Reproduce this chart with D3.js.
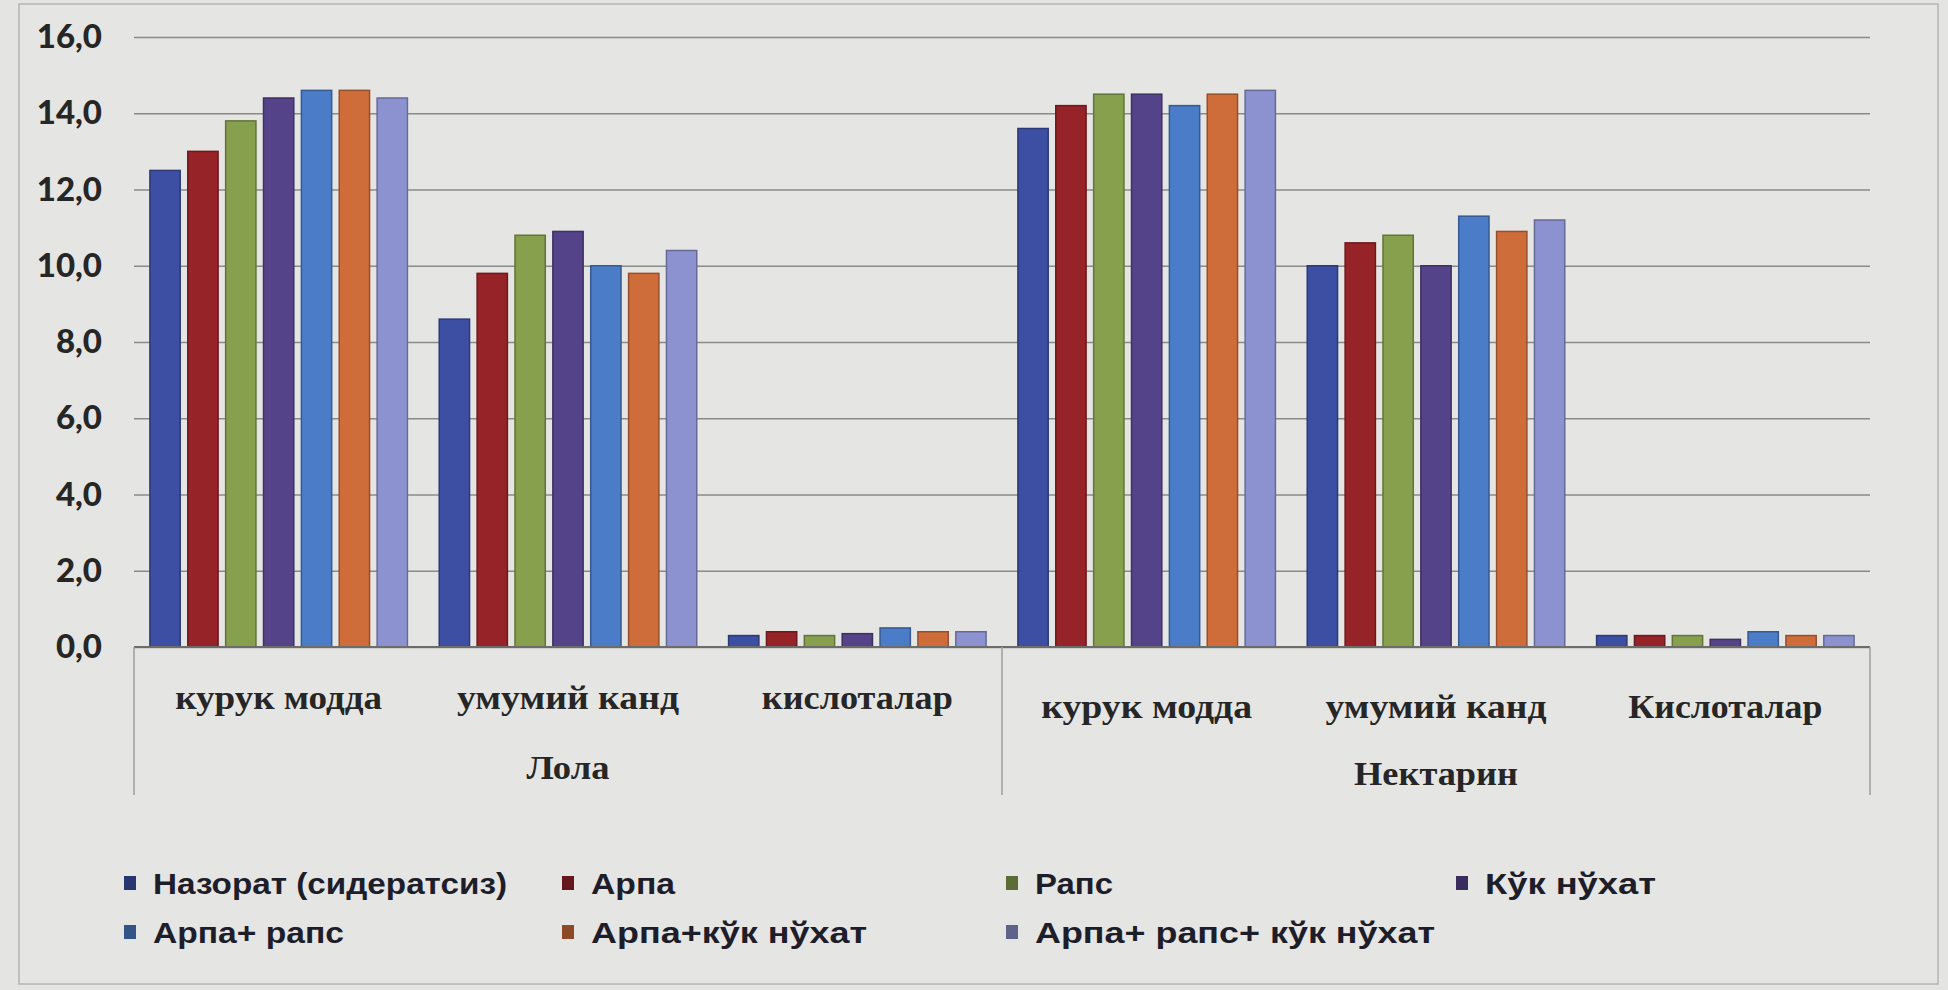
<!DOCTYPE html>
<html>
<head>
<meta charset="utf-8">
<script src="https://cdn.jsdelivr.net/npm/d3@7"></script>
<style>
  html, body { margin: 0; padding: 0; background: #e4e4e2; }
  svg { display: block; }
</style>
</head>
<body>
<svg id="chart" width="1948" height="990"></svg>
<script>
// Categories: two varieties, each with three measured indicators
const groups = ["Лола", "Нектарин"];
const indicators = [
  ["курук модда", "умумий канд", "кислоталар"],
  ["курук модда", "умумий канд", "Кислоталар"]
];

// Series names (green manure treatments)
const seriesNames = [
  "Назорат (сидератсиз)", "Арпа", "Рапс", "Кўк нўхат",
  "Арпа+ рапс", "Арпа+кўк нўхат", "Арпа+ рапс+ кўк нўхат"
];

// Values per series, in category order:
// Лола: курук модда, умумий канд, кислоталар; Нектарин: same
const nazorat      = [12.5,  8.6, 0.3, 13.6, 10.0, 0.3];
const arpa         = [13.0,  9.8, 0.4, 14.2, 10.6, 0.3];
const raps         = [13.8, 10.8, 0.3, 14.5, 10.8, 0.3];
const kukNukhat    = [14.4, 10.9, 0.35, 14.5, 10.0, 0.2];
const arpaRaps     = [14.6, 10.0, 0.5, 14.2, 11.3, 0.4];
const arpaKuk      = [14.6,  9.8, 0.4, 14.5, 10.9, 0.3];
const arpaRapsKuk  = [14.4, 10.4, 0.4, 14.6, 11.2, 0.3];
const seriesValues = [nazorat, arpa, raps, kukNukhat, arpaRaps, arpaKuk, arpaRapsKuk];

const colors = ["#3d4fa3", "#962328", "#86a04e", "#55438a", "#4a7cc8", "#cf6d3a", "#8c92d0"];

const yTicks = [0, 2, 4, 6, 8, 10, 12, 14, 16];
const yTickLabels = ["0,0", "2,0", "4,0", "6,0", "8,0", "10,0", "12,0", "14,0", "16,0"];

const svg = d3.select("#chart");
const plot = { left: 134, right: 1870, top: 37, bottom: 647 };

// frame of the chart area
svg.append("rect")
  .attr("x", 19).attr("y", 4).attr("width", 1919).attr("height", 980)
  .attr("fill", "#e5e5e3").attr("stroke", "#b4b4b2").attr("stroke-width", 1.5);

// flat category keys
const catKeys = [];
groups.forEach((g, gi) => indicators[gi].forEach((c, ci) => catKeys.push(gi + "|" + ci)));

const x0 = d3.scaleBand().domain(catKeys).range([plot.left, plot.right]).paddingInner(0.11).paddingOuter(0.055);
const x1 = d3.scaleBand().domain(d3.range(seriesNames.length)).range([0, x0.bandwidth()]).paddingInner(0.2);
const y = d3.scaleLinear().domain([0, 16]).range([plot.bottom, plot.top]);

// gridlines
svg.append("g")
  .attr("transform", `translate(${plot.left},0)`)
  .call(d3.axisLeft(y).tickValues(yTicks).tickSize(-(plot.right - plot.left)).tickFormat(""))
  .call(g => g.select(".domain").remove())
  .call(g => g.selectAll("line").attr("stroke", "#8a8a88").attr("stroke-width", 1.7));

// y-axis labels
svg.append("g")
  .attr("transform", `translate(102,0)`)
  .call(d3.axisLeft(y).tickValues(yTicks).tickSize(0).tickPadding(0)
    .tickFormat((d, i) => yTickLabels[i]))
  .call(g => g.select(".domain").remove())
  .call(g => g.selectAll("text")
    .attr("font-family", "Lato, 'Liberation Sans', sans-serif")
    .attr("font-weight", "900")
    .attr("font-size", 33)
    .attr("fill", "#262626"));

// bars
const cat = svg.append("g").selectAll("g").data(catKeys).join("g")
  .attr("transform", d => `translate(${x0(d)},0)`);
cat.selectAll("rect")
  .data((d, ci) => seriesValues.map((vals, si) => ({ si, v: vals[ci] })))
  .join("rect")
  .attr("x", d => x1(d.si))
  .attr("width", x1.bandwidth())
  .attr("y", d => y(d.v))
  .attr("height", d => y(0) - y(d.v))
  .attr("fill", d => colors[d.si])
  .attr("stroke", d => d3.color(colors[d.si]).darker(0.9))
  .attr("stroke-width", 1.5);

// baseline
svg.append("line")
  .attr("x1", plot.left).attr("x2", plot.right)
  .attr("y1", y(0)).attr("y2", y(0))
  .attr("stroke", "#6c6c6a").attr("stroke-width", 2);

// multi-level category axis: separator lines
const sepX = [plot.left, x0(catKeys[3]) - x0.step() * x0.paddingInner() / 2, plot.right];
svg.append("g").selectAll("line").data(sepX).join("line")
  .attr("x1", d => d).attr("x2", d => d)
  .attr("y1", y(0)).attr("y2", 795)
  .attr("stroke", "#a2a2a0").attr("stroke-width", 1.6);

// indicator labels
const indWidths = [207, 222, 191, 211, 221, 194];
svg.append("g").selectAll("text").data(catKeys).join("text")
  .attr("x", d => x0(d) + x0.bandwidth() / 2)
  .attr("y", (d, i) => i < 3 ? 701 : 710)
  .attr("text-anchor", "middle")
  .attr("dominant-baseline", "middle")
  .attr("font-family", "'Liberation Serif', 'Times New Roman', serif")
  .attr("font-weight", "bold")
  .attr("font-size", 33)
  .attr("fill", "#262626")
  .attr("textLength", (d, i) => indWidths[i])
  .attr("lengthAdjust", "spacingAndGlyphs")
  .text(d => { const [g, c] = d.split("|").map(Number); return indicators[g][c]; });

// variety labels
const groupWidths = [83, 164];
svg.append("g").selectAll("text").data(groups).join("text")
  .attr("x", (d, gi) => (x0(catKeys[gi * 3 + 1]) + x0.bandwidth() / 2))
  .attr("y", (d, gi) => gi === 0 ? 771 : 777)
  .attr("text-anchor", "middle")
  .attr("dominant-baseline", "middle")
  .attr("font-family", "'Liberation Serif', 'Times New Roman', serif")
  .attr("font-weight", "bold")
  .attr("font-size", 33)
  .attr("fill", "#262626")
  .attr("textLength", (d, i) => groupWidths[i])
  .attr("lengthAdjust", "spacingAndGlyphs")
  .text(d => d);

// legend
const legendCols = [130, 568, 1012, 1462];
const legendRows = [886, 935];
const legendWidths = [354, 84, 78, 171, 191, 276, 400];
const legend = svg.append("g").selectAll("g").data(seriesNames).join("g")
  .attr("transform", (d, i) => `translate(${legendCols[i % 4]},${legendRows[Math.floor(i / 4)]})`);
legend.append("rect")
  .attr("x", -6).attr("y", -10).attr("width", 12).attr("height", 14)
  .attr("fill", (d, i) => d3.color(colors[i]).darker(1.1));
legend.append("text")
  .attr("x", 23).attr("y", 0)
  .attr("dominant-baseline", "middle")
  .attr("font-family", "'Liberation Sans', Arial, sans-serif")
  .attr("font-weight", "bold")
  .attr("font-size", 30)
  .attr("fill", "#1e1e2a")
  .attr("textLength", (d, i) => legendWidths[i])
  .attr("lengthAdjust", "spacingAndGlyphs")
  .text(d => d);
</script>
</body>
</html>
